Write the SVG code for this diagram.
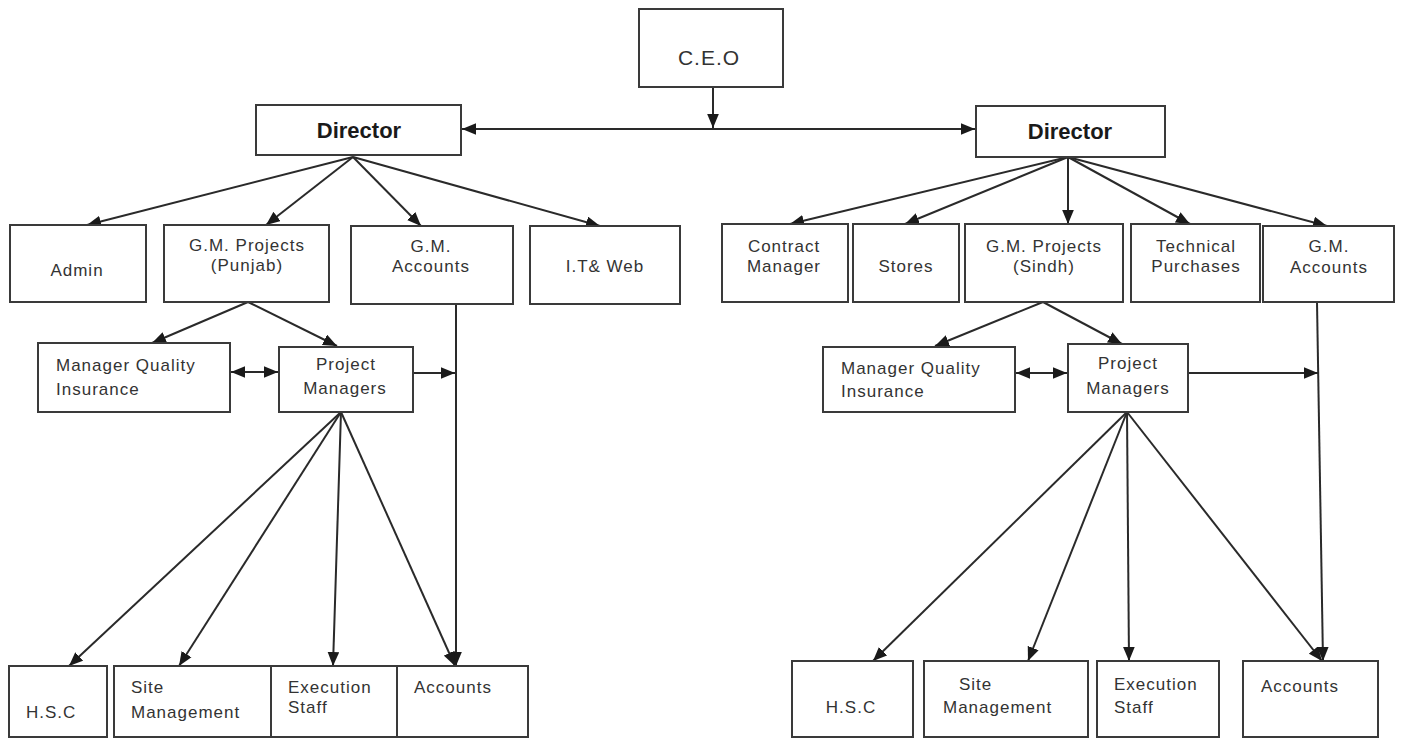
<svg xmlns="http://www.w3.org/2000/svg" width="1403" height="738" viewBox="0 0 1403 738">
<defs>
<marker id="ah" markerUnits="userSpaceOnUse" markerWidth="14" markerHeight="12" refX="12" refY="5" orient="auto-start-reverse" viewBox="0 0 12 10">
<path d="M0,0 L12,5 L0,10 z" fill="#1a1a1a"/>
</marker>
<style>
.box{fill:#fff;stroke:#3a3a3a;stroke-width:2}
.t{font-family:"Liberation Sans",Arial,sans-serif;font-size:17px;letter-spacing:1px;fill:#333}
.c{text-anchor:middle}
.big{font-family:"Liberation Sans",Arial,sans-serif;font-size:22px;font-weight:bold;fill:#1a1a1a;text-anchor:middle}
.ceo{font-family:"Liberation Sans",Arial,sans-serif;font-size:21px;letter-spacing:1px;fill:#333;text-anchor:middle}
.ln{fill:none;stroke:#2a2a2a;stroke-width:2}
.a{marker-end:url(#ah)}
.aa{marker-end:url(#ah);marker-start:url(#ah)}
</style>
</defs>
<rect width="1403" height="738" fill="#fff"/>

<g id="connectors">
<line class="ln aa" x1="462" y1="129" x2="975" y2="129"/>
<line class="ln a" x1="713" y1="87" x2="713" y2="128"/>
<!-- left director -->
<line class="ln a" x1="353" y1="157" x2="87" y2="225"/>
<line class="ln a" x1="353" y1="157" x2="266" y2="225"/>
<line class="ln a" x1="353" y1="157" x2="421" y2="226"/>
<line class="ln a" x1="353" y1="157" x2="600" y2="226"/>
<!-- right director -->
<line class="ln a" x1="1068" y1="157" x2="790" y2="224"/>
<line class="ln a" x1="1068" y1="157" x2="905" y2="224"/>
<line class="ln a" x1="1068" y1="157" x2="1068" y2="224"/>
<line class="ln a" x1="1068" y1="157" x2="1190" y2="224"/>
<line class="ln a" x1="1068" y1="157" x2="1327" y2="226"/>
<!-- left GM projects -->
<line class="ln a" x1="248" y1="302" x2="152" y2="343"/>
<line class="ln a" x1="248" y1="302" x2="337" y2="346"/>
<line class="ln aa" x1="231" y1="372" x2="278" y2="372"/>
<line class="ln a" x1="396" y1="373" x2="455" y2="373"/>
<line class="ln a" x1="456" y1="304" x2="456" y2="666"/>
<!-- left PM fan -->
<line class="ln a" x1="341" y1="412" x2="69" y2="666"/>
<line class="ln a" x1="341" y1="412" x2="179" y2="666"/>
<line class="ln a" x1="341" y1="412" x2="333" y2="666"/>
<line class="ln a" x1="341" y1="412" x2="455" y2="666"/>
<!-- right GM projects -->
<line class="ln a" x1="1043" y1="302" x2="935" y2="346"/>
<line class="ln a" x1="1043" y1="302" x2="1122" y2="344"/>
<line class="ln aa" x1="1016" y1="373" x2="1067" y2="373"/>
<line class="ln a" x1="1188" y1="373" x2="1318" y2="373"/>
<line class="ln a" x1="1317" y1="302" x2="1323" y2="661"/>
<!-- right PM fan -->
<line class="ln a" x1="1127" y1="412" x2="873" y2="661"/>
<line class="ln a" x1="1127" y1="412" x2="1028" y2="661"/>
<line class="ln a" x1="1127" y1="412" x2="1129" y2="661"/>
<line class="ln a" x1="1127" y1="412" x2="1322" y2="661"/>
</g>

<g id="ceo"><rect class="box" x="639" y="9" width="144" height="78"/><text class="ceo" x="709" y="65">C.E.O</text></g>
<g id="director-left"><rect class="box" x="256" y="105" width="205" height="50"/><text class="big" x="359" y="138">Director</text></g>
<g id="director-right"><rect class="box" x="976" y="106" width="189" height="51"/><text class="big" x="1070" y="139">Director</text></g>

<g id="admin"><rect class="box" x="10" y="225" width="136" height="77"/><text class="t c" x="77" y="276">Admin</text></g>
<g id="gm-projects-punjab"><rect class="box" x="164" y="225" width="165" height="77"/><text class="t c" x="247" y="251">G.M. Projects</text><text class="t c" x="247" y="271">(Punjab)</text></g>
<g id="gm-accounts-left"><rect class="box" x="351" y="226" width="162" height="78"/><text class="t c" x="431" y="252">G.M.</text><text class="t c" x="431" y="272">Accounts</text></g>
<g id="it-web"><rect class="box" x="530" y="226" width="150" height="78"/><text class="t c" x="605" y="272">I.T&amp; Web</text></g>

<g id="contract-manager"><rect class="box" x="722" y="224" width="126" height="78"/><text class="t c" x="784" y="252">Contract</text><text class="t c" x="784" y="272">Manager</text></g>
<g id="stores"><rect class="box" x="853" y="224" width="106" height="78"/><text class="t c" x="906" y="272">Stores</text></g>
<g id="gm-projects-sindh"><rect class="box" x="965" y="224" width="158" height="78"/><text class="t c" x="1044" y="252">G.M. Projects</text><text class="t c" x="1044" y="272">(Sindh)</text></g>
<g id="technical-purchases"><rect class="box" x="1131" y="224" width="129" height="78"/><text class="t c" x="1196" y="252">Technical</text><text class="t c" x="1196" y="272">Purchases</text></g>
<g id="gm-accounts-right"><rect class="box" x="1263" y="226" width="131" height="76"/><text class="t c" x="1329" y="252">G.M.</text><text class="t c" x="1329" y="273">Accounts</text></g>

<g id="mqi-left"><rect class="box" x="38" y="343" width="192" height="69"/><text class="t" x="56" y="371">Manager Quality</text><text class="t" x="56" y="395">Insurance</text></g>
<g id="pm-left"><rect class="box" x="279" y="347" width="134" height="65"/><text class="t c" x="346" y="370">Project</text><text class="t c" x="345" y="394">Managers</text></g>
<g id="mqi-right"><rect class="box" x="823" y="347" width="192" height="65"/><text class="t" x="841" y="374">Manager Quality</text><text class="t" x="841" y="397">Insurance</text></g>
<g id="pm-right"><rect class="box" x="1068" y="344" width="120" height="68"/><text class="t c" x="1128" y="369">Project</text><text class="t c" x="1128" y="394">Managers</text></g>

<g id="hsc-left"><rect class="box" x="9" y="666" width="98" height="71"/><text class="t" x="26" y="718">H.S.C</text></g>
<g id="site-left"><rect class="box" x="114" y="666" width="157" height="71"/><text class="t" x="131" y="693">Site</text><text class="t" x="131" y="718">Management</text></g>
<g id="exec-left"><rect class="box" x="271" y="666" width="126" height="71"/><text class="t" x="288" y="693">Execution</text><text class="t" x="288" y="713">Staff</text></g>
<g id="accounts-left"><rect class="box" x="397" y="666" width="131" height="71"/><text class="t" x="414" y="693">Accounts</text></g>

<g id="hsc-right"><rect class="box" x="792" y="661" width="121" height="76"/><text class="t c" x="851" y="713">H.S.C</text></g>
<g id="site-right"><rect class="box" x="924" y="661" width="164" height="76"/><text class="t" x="959" y="690">Site</text><text class="t" x="943" y="713">Management</text></g>
<g id="exec-right"><rect class="box" x="1097" y="661" width="122" height="76"/><text class="t" x="1114" y="690">Execution</text><text class="t" x="1114" y="713">Staff</text></g>
<g id="accounts-right"><rect class="box" x="1243" y="661" width="135" height="76"/><text class="t" x="1261" y="692">Accounts</text></g>
</svg>
